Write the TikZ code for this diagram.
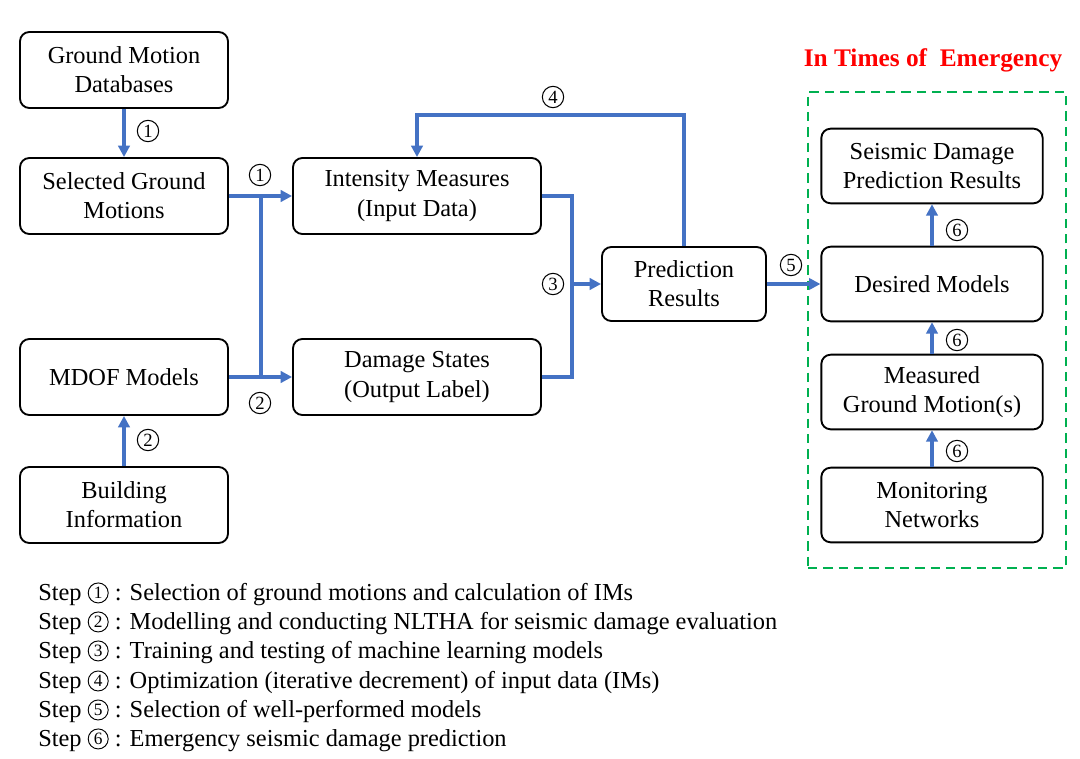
\documentclass[tikz,border=0pt]{standalone}
\usepackage{fontspec}
\setmainfont{Liberation Serif}
\usepackage{xcolor}
\usetikzlibrary{positioning,arrows.meta}
\definecolor{flowblue}{HTML}{4472C4}
\definecolor{emgreen}{HTML}{00B050}
\tikzset{
  % --- process boxes ---------------------------------------------------------
  box/.style={rectangle,rounded corners=7pt,draw=black,line width=1.4pt,
              align=center,font=\fontsize{18.3}{21.8}\selectfont,
              minimum width=156pt,minimum height=57pt,inner sep=2pt},
  midbox/.style={box,minimum width=186pt},
  predbox/.style={box,minimum width=123pt,minimum height=55.5pt},
  emgbox/.style={box,minimum width=166pt,minimum height=56pt},
  % --- connectors ------------------------------------------------------------
  flow/.style={-{Triangle[length=8.5pt,width=8.5pt]},flowblue,line width=2.5pt},
  link/.style={flowblue,line width=2.5pt},
  % --- labels ----------------------------------------------------------------
  stepno/.style={circle,draw=black,line width=0.8pt,minimum size=16pt,
                 inner sep=0pt,font=\fontsize{14}{14}\selectfont},
  steptxt/.style={anchor=west,inner sep=0pt,
                  font=\fontsize{18.3}{20}\selectfont},
}
% circled step number inside the legend lines
\newcommand{\stepmark}[1]{\tikz[baseline=-5.5pt]
  \node[circle,draw=black,line width=0.7pt,minimum size=15pt,inner sep=0pt,
        font=\fontsize{13}{13}\selectfont] (m) at (0,0) {#1};}

\begin{document}
\begin{tikzpicture}[x=0.75pt, y=0.75pt]
  \useasboundingbox (0,0) rectangle (1080,-759);

  % left column
  \node[box] (gmd)  at (124,-70)  {Ground Motion\\Databases};
  \node[box] (sgm)  at (124,-196) {Selected Ground\\Motions};
  \node[box] (mdof) at (124,-377) {MDOF Models};
  \node[box] (bi)   at (124,-505) {Building\\Information};

  % data sets and prediction
  \node[midbox]  (im) at (417,-196) {Intensity Measures\\(Input Data)};
  \node[midbox]  (ds) at (417,-377) {Damage States\\(Output Label)};
  \node[predbox] (pr) at (684,-284) {Prediction\\Results};

  % emergency column
  \node[emgbox] (sdpr) at (932,-166) {Seismic Damage\\Prediction Results};
  \node[emgbox] (dm)   at (932,-284) {Desired Models};
  \node[emgbox] (mgm)  at (932,-392) {Measured\\Ground Motion(s)};
  \node[emgbox] (mn)   at (932,-505) {Monitoring\\Networks};
  \node[draw=emgreen,line width=1.5pt,dash pattern=on 7pt off 4.5pt,
        minimum width=193.5pt,minimum height=357pt,inner sep=0pt]
        (emg) at (937,-330) {};
  \node[text=red,font=\bfseries\fontsize{19}{22}\selectfont]
        (emgt) at (933,-60) {In Times of\ \ Emergency};

  % step 1 and 2
  \draw[flow] (gmd) -- (sgm);
  \draw[flow] (bi) -- (mdof);
  \coordinate (j12) at (261,-196);
  \draw[flow] (sgm.east) -- (im.west);
  \draw[flow] (mdof.east) -- (ds.west);
  \draw[link] (j12) -- (j12 |- ds.west);
  \node[stepno] (s1a) at (148,-131) {1};
  \node[stepno] (s1b) at (260,-175) {1};
  \node[stepno] (s2a) at (148,-440) {2};
  \node[stepno] (s2b) at (260,-403) {2};

  % step 3
  \coordinate (j3) at (572,-284);
  \draw[link] (im.east) -| (j3) |- (ds.east);
  \draw[flow] (j3) -- (pr.west);
  \node[stepno] (s3) at (553,-284) {3};

  % step 4
  \coordinate (t4) at (0,-115);
  \draw[flow] (pr.north) |- (im.north |- t4) -- (im.north);
  \node[stepno] (s4) at (553,-97) {4};

  % step 5
  \draw[flow] (pr.east) -- (dm.west);
  \node[stepno] (s5) at (791,-265) {5};

  % step 6
  \draw[flow] (mn) -- (mgm);
  \draw[flow] (mgm) -- (dm);
  \draw[flow] (dm) -- (sdpr);
  \node[stepno] (s6a) at (957,-451) {6};
  \node[stepno] (s6b) at (957,-340) {6};
  \node[stepno] (s6c) at (957,-230) {6};

  % legend
  \node[steptxt] (k1) at (38,-594) {Step \stepmark{1} : Selection of ground motions and calculation of IMs};
  \node[steptxt] (k2) at (38,-623) {Step \stepmark{2} : Modelling and conducting NLTHA for seismic damage evaluation};
  \node[steptxt] (k3) at (38,-652) {Step \stepmark{3} : Training and testing of machine learning models};
  \node[steptxt] (k4) at (38,-682) {Step \stepmark{4} : Optimization (iterative decrement) of input data (IMs)};
  \node[steptxt] (k5) at (38,-711) {Step \stepmark{5} : Selection of well-performed models};
  \node[steptxt] (k6) at (38,-740) {Step \stepmark{6} : Emergency seismic damage prediction};
\end{tikzpicture}
\end{document}
